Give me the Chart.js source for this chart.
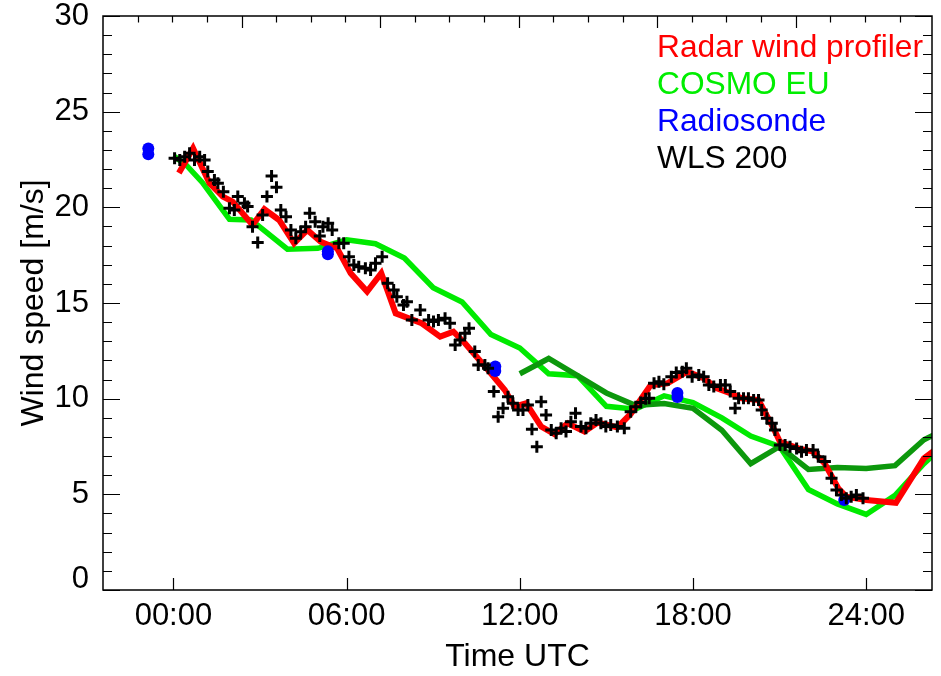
<!DOCTYPE html>
<html>
<head>
<meta charset="utf-8">
<script src="https://cdn.jsdelivr.net/npm/chart.js@4.4.1/dist/chart.umd.min.js"></script>
<style>
  html, body { margin: 0; padding: 0; background: #fff; }
  #wrap { width: 941px; height: 676px; }
</style>
</head>
<body>
<div id="wrap"><canvas id="chart" width="941" height="676"></canvas></div>
<script>
// x values are hours UTC, y values wind speed in m/s
const xTickHours = [0, 6, 12, 18, 24];
const yTickValues = [0, 5, 10, 15, 20, 25, 30];

// Radar wind profiler (red)
const radarHours = [0.19, 0.68, 1.25, 1.71, 2.05, 2.74, 3.15, 3.66, 4.18, 4.64, 5.1, 5.67, 6.14, 6.71, 7.2,
  7.7, 8.6, 9.24, 9.7, 10.1, 10.9, 11.48, 11.82, 12.22, 12.74, 13.2, 13.66, 14.24, 14.7, 15.38, 15.84,
  16.53, 17.11, 17.8, 18.37, 18.83, 19.29, 19.69, 20.27, 20.79, 21.01, 21.65, 22.16, 22.56, 23.03, 23.31,
  24.0, 25.03, 26.0, 26.45];
const radarSpeed = [21.8, 23.09, 21.26, 20.56, 20.3, 19.08, 19.9, 19.34, 18.12, 18.82, 18.2, 17.86, 16.56, 15.6, 16.56,
  14.46, 13.94, 13.24, 13.5, 12.9, 11.5, 10.45, 9.58, 9.76, 8.54, 8.15, 8.71, 8.28, 8.75, 8.5, 9.2,
  10.7, 10.8, 11.41, 11.07, 10.54, 10.28, 10.02, 9.93, 8.45, 7.75, 7.4, 7.23, 6.62, 5.32, 4.88,
  4.7, 4.56, 6.88, 7.4];

// COSMO EU (light green)
const cosmoHours = [0, 0.45, 1, 1.94, 2.69, 3.95, 5, 6, 7, 8, 9, 10, 11, 12, 13, 14, 15, 16, 17, 18, 19, 20, 21, 22, 23, 24, 25, 26, 27];
const cosmoSpeed = [22.7, 22.2, 21.3, 19.38, 19.34, 17.81, 17.86, 18.3, 18.1, 17.35, 15.8, 15.05, 13.35, 12.65, 11.3, 11.2,
  9.6, 9.45, 10.15, 9.8, 9.0, 8.05, 7.5, 5.25, 4.5, 3.95, 4.95, 6.6, 8.0];

// second model run (dark green, not in legend)
const cosmo2Hours = [12, 13, 14, 15, 16, 17, 18, 19, 20, 21, 22, 23, 24, 25, 26, 27];
const cosmo2Speed = [11.3, 12.1, 11.2, 10.3, 9.65, 9.75, 9.5, 8.35, 6.6, 7.5, 6.3, 6.4, 6.35, 6.5, 7.85, 8.6];

// Radiosonde (blue)
const sondeHours = [-0.87, -0.87, 5.35, 5.35, 11.15, 11.15, 17.46, 17.46, 23.24];
const sondeSpeed = [23.08, 22.77, 17.7, 17.55, 11.68, 11.45, 10.3, 10.09, 4.7];

// WLS 200 lidar (black crosses)
const wlsHours = [0.04, 0.22, 0.39, 0.56, 0.73, 0.91, 1.08, 1.19, 1.42, 1.54, 1.73, 1.94, 2.11, 2.23, 2.46, 2.57,
  2.74, 2.92, 3.09, 3.24, 3.4, 3.57, 3.72, 3.9, 4.07, 4.24, 4.41, 4.58, 4.72, 4.91, 5.07, 5.18, 5.36, 5.5,
  5.73, 5.9, 6.08, 6.25, 6.42, 6.65, 6.83, 7.0, 7.23, 7.42, 7.63, 7.74, 7.97, 8.09, 8.26, 8.55, 8.84, 9.01,
  9.18, 9.41, 9.58, 9.76, 9.93, 10.1, 10.24, 10.44, 10.56, 10.79, 10.9, 11.1, 11.25, 11.42, 11.59, 11.76,
  11.94, 12.11, 12.28, 12.42, 12.59, 12.74, 12.91, 13.09, 13.26, 13.43, 13.6, 13.77, 13.93, 14.12, 14.29,
  14.46, 14.64, 14.81, 14.98, 15.15, 15.38, 15.62, 15.84, 16.02, 16.19, 16.36, 16.48, 16.65, 16.82, 16.99,
  17.25, 17.42, 17.63, 17.77, 17.97, 18.2, 18.37, 18.55, 18.72, 18.95, 19.12, 19.29, 19.46, 19.58, 19.75,
  19.92, 20.1, 20.27, 20.38, 20.56, 20.73, 20.84, 21.01, 21.19, 21.36, 21.59, 21.76, 21.93, 22.16, 22.34,
  22.57, 22.8, 22.97, 23.14, 23.31, 23.48, 23.66, 23.89];
const wlsSpeed = [22.57, 22.48, 22.65, 22.83, 22.48, 22.65, 22.48, 21.87, 21.43, 21.26, 20.82, 19.95, 19.86, 20.56, 20.21, 20.04,
  18.99, 18.16, 19.6, 20.56, 21.64, 21.05, 19.86, 19.51, 18.82, 18.38, 18.73, 18.99, 19.69, 19.25, 18.5, 18.99, 19.17, 18.82,
  18.12, 18.12, 17.42, 16.99, 16.9, 16.82, 16.73, 17.08, 17.42, 16.03, 15.68, 15.33, 14.9, 15.07, 14.11, 14.64, 14.11, 14.03,
  14.11, 14.2, 13.94, 12.81, 13.07, 13.42, 13.68, 12.46, 11.76, 11.76, 11.59, 10.37, 9.06, 9.5, 10.1, 9.76,
  9.41, 9.41, 9.67, 8.4, 7.49, 9.84, 9.15, 8.36, 8.19, 8.45, 8.28, 8.8, 9.24, 8.54, 8.45,
  8.71, 8.89, 8.71, 8.54, 8.63, 8.54, 8.45, 9.32, 9.58, 9.8, 10.0, 10.02, 10.8, 10.89, 10.76,
  11.15, 11.37, 11.41, 11.59, 11.15, 11.24, 11.15, 10.72, 10.63, 10.72, 10.72, 10.37, 9.5, 10.02, 10.02,
  10.02, 9.93, 9.93, 9.41, 8.97, 8.71, 8.36, 7.58, 7.58, 7.49, 7.4, 7.23, 7.32, 7.32, 6.97,
  6.71, 5.84, 5.23, 4.97, 4.79, 4.88, 4.97, 4.79];

const xMin = -2.44, xMax = 26.28;
const topStep = 1.2; // top axis minor tick spacing in hours

function pts(xs, ys) {
  return xs.map((x, i) => ({ x: x, y: ys[i] }));
}

Chart.defaults.font.family = '"Liberation Sans", Arial, Helvetica, sans-serif';
Chart.defaults.font.size = 31;
Chart.defaults.color = '#000';

const frame = {
  id: 'frame',
  afterDraw(chart) {
    const { ctx, chartArea: a, scales } = chart;
    const x = scales.x, y = scales.y;
    ctx.save();
    ctx.strokeStyle = '#000';
    ctx.lineWidth = 1.5;
    ctx.strokeRect(a.left, a.top, a.right - a.left, a.bottom - a.top);
    ctx.lineWidth = 1.2;
    ctx.beginPath();
    for (let v = 0; v <= 30; v++) {
      const py = Math.round(y.getPixelForValue(v)) + 0.5;
      const len = v % 5 === 0 ? 17 : 9;
      ctx.moveTo(a.left, py); ctx.lineTo(a.left + len, py);
      ctx.moveTo(a.right, py); ctx.lineTo(a.right - len, py);
    }
    xTickHours.forEach(h => {
      const px = Math.round(x.getPixelForValue(h)) + 0.5;
      ctx.moveTo(px, a.bottom); ctx.lineTo(px, a.bottom - 12);
    });
    for (let k = 1; xMin + k * topStep < xMax; k++) {
      const px = Math.round(x.getPixelForValue(xMin + k * topStep)) + 0.5;
      const len = k % 4 === 0 ? 12 : 6.5;
      ctx.moveTo(px, a.top); ctx.lineTo(px, a.top + len);
    }
    ctx.stroke();

    // legend as coloured text
    const items = [
      ['Radar wind profiler', '#ff0000'],
      ['COSMO EU', '#00ee00'],
      ['Radiosonde', '#0000ff'],
      ['WLS 200', '#000000']
    ];
    ctx.font = '31.7px "Liberation Sans", Arial, sans-serif';
    ctx.textAlign = 'left';
    ctx.textBaseline = 'alphabetic';
    items.forEach((it, i) => {
      ctx.fillStyle = it[1];
      ctx.fillText(it[0], 657, 57 + i * 37);
    });
    ctx.restore();
  }
};

new Chart(document.getElementById('chart'), {
  type: 'line',
  data: {
    datasets: [
      {
        label: 'WLS 200',
        data: pts(wlsHours, wlsSpeed),
        showLine: false,
        pointStyle: 'cross',
        pointRadius: 6,
        pointBorderWidth: 3,
        borderColor: '#000',
        order: 0
      },
      {
        label: 'Radiosonde',
        data: pts(sondeHours, sondeSpeed),
        showLine: false,
        pointStyle: 'circle',
        pointRadius: 6,
        pointBorderWidth: 0,
        backgroundColor: '#0000ff',
        borderColor: '#0000ff',
        order: 1
      },
      {
        label: 'Radar wind profiler',
        data: pts(radarHours, radarSpeed),
        borderColor: '#ff0000',
        borderWidth: 6,
        pointRadius: 0,
        clip: 0,
        order: 2
      },
      {
        label: 'COSMO EU run 2',
        data: pts(cosmo2Hours, cosmo2Speed),
        borderColor: '#0c980c',
        borderWidth: 5.5,
        pointRadius: 0,
        clip: 0,
        order: 3
      },
      {
        label: 'COSMO EU',
        data: pts(cosmoHours, cosmoSpeed),
        borderColor: '#00ea00',
        borderWidth: 5.5,
        pointRadius: 0,
        clip: 0,
        order: 4
      }
    ]
  },
  options: {
    responsive: false,
    animation: false,
    layout: { padding: { top: 16, right: 5, left: 0, bottom: 0 } },
    plugins: { legend: { display: false }, tooltip: { enabled: false } },
    scales: {
      x: {
        type: 'linear',
        min: xMin,
        max: xMax,
        grid: { display: false, drawTicks: false },
        border: { display: false },
        afterBuildTicks: s => { s.ticks = xTickHours.map(v => ({ value: v })); },
        afterFit: s => { s.height = 86; s.paddingLeft = 0; s.paddingRight = 0; },
        ticks: {
          padding: 8,
          maxRotation: 0,
          callback: v => (v < 10 ? '0' + v : '' + v) + ':00'
        },
        title: { display: true, text: 'Time UTC', padding: 0, font: { size: 32 } }
      },
      y: {
        min: 0,
        max: 30,
        grid: { display: false, drawTicks: false },
        border: { display: false },
        afterBuildTicks: s => { s.ticks = yTickValues.map(v => ({ value: v })); },
        afterFit: s => { s.width = 103; s.paddingTop = 0; s.paddingBottom = 0; },
        ticks: {
          padding: 14,
          // the zero label sits a little above its tick, clear of the time labels
          callback: v => (v === 0 ? ['0', ''] : '' + v),
          font: c => (c.tick && c.tick.value === 0 ? { size: 31, lineHeight: 0.65 } : { size: 31 })
        },
        title: { display: true, text: 'Wind speed [m/s]', padding: { top: 15, bottom: 0 }, font: { size: 32 } }
      }
    }
  },
  plugins: [frame]
});
</script>
</body>
</html>
